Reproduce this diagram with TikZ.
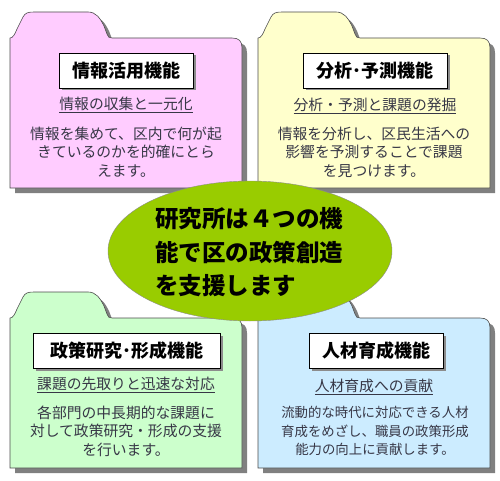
\documentclass[tikz,border=0pt]{standalone}
\usepackage{fontspec}
\setmainfont{Noto Sans CJK JP}
\usetikzlibrary{shapes.geometric,shadows}

\definecolor{pinkfill}{RGB}{255,204,255}
\definecolor{yellowfill}{RGB}{255,255,204}
\definecolor{greenfill}{RGB}{204,255,204}
\definecolor{bluefill}{RGB}{204,236,255}
\definecolor{limefill}{RGB}{153,204,0}
\definecolor{txtcol}{RGB}{55,55,70}

% folder outline: #1 = left x, #2 = top of the tab
\newcommand{\folderpath}[2]{%
  (#1,#2+176) -- (#1,#2+26)
  .. controls (#1+3,#2+26) and (#1+5,#2+22) .. (#1+7,#2+17)
  -- (#1+13,#2+5) .. controls (#1+15,#2+1) and (#1+18,#2) .. (#1+24,#2)
  -- (#1+78,#2) .. controls (#1+86,#2) and (#1+90,#2+6) .. (#1+94,#2+14)
  -- (#1+97,#2+22) .. controls (#1+98,#2+25) and (#1+99,#2+26) .. (#1+102,#2+26)
  -- (#1+222,#2+26) .. controls (#1+229,#2+26) and (#1+232,#2+29) .. (#1+232,#2+36)
  -- (#1+232,#2+176) -- cycle}

\begin{document}
\begin{tikzpicture}[x=1pt, y=-1pt,
  folder/.style={draw=black!70, line width=0.6pt},
  titlebox/.style={draw=black, line width=0.8pt, fill=white, minimum height=35pt,
    inner sep=0pt, font=\fontsize{18}{20}\selectfont\bfseries,
    drop shadow={shadow xshift=2.5pt, shadow yshift=-2.5pt, fill=black!45, opacity=1}},
  subline/.style={text=txtcol, inner sep=1pt, font=\fontsize{14.8}{18.5}\selectfont},
  bodytext/.style={text=txtcol, align=center, inner sep=0pt, font=\fontsize{14.8}{18.5}\selectfont},
]
  \useasboundingbox (0,0) rectangle (500,481);

  % folders with their shadows
  \foreach \L/\T/\col in {10/12/pinkfill, 258/12/yellowfill, 10/292/greenfill, 258/292/bluefill}{
    \fill[black!50, xshift=5pt, yshift=-5pt] \folderpath{\L}{\T};
    \draw[folder, fill=\col] \folderpath{\L}{\T};
  }

  % top left
  \node[titlebox, minimum width=134pt] (info-title) at (126,70.5) {情報活用機能};
  \node[subline] (info-sub) at (126,105) {\underline{情報の収集と一元化}};
  \node[bodytext] (info-text) at (126,152) {情報を集めて、区内で何が起\\きているのかを的確にとら\\えます。};

  % top right
  \node[titlebox, minimum width=144pt] (anal-title) at (375,70.5) {分析･予測機能};
  \node[subline] (anal-sub) at (375,106) {\underline{分析・予測と課題の発掘}};
  \node[bodytext] (anal-text) at (374,152) {情報を分析し、区民生活への\\影響を予測することで課題\\を見つけます。};

  % bottom left
  \node[titlebox, minimum width=187pt] (poli-title) at (126.5,350.5) {政策研究･形成機能};
  \node[subline] (poli-sub) at (126,385) {\underline{課題の先取りと迅速な対応}};
  \node[bodytext] (poli-text) at (126,431) {各部門の中長期的な課題に\\対して政策研究・形成の支援\\を行います。};

  % bottom right
  \node[titlebox, minimum width=134pt] (staff-title) at (376,350.5) {人材育成機能};
  \node[subline] (staff-sub) at (374,387) {\underline{人材育成への貢献}};
  \node[bodytext, font=\fontsize{13.4}{18.5}\selectfont] (staff-text) at (375,431) {流動的な時代に対応できる人材\\育成をめざし、職員の政策形成\\能力の向上に貢献します。};

  % centre
  \node[ellipse, draw=black!45, fill=limefill, minimum width=284pt, minimum height=140pt,
    inner sep=0pt] (core) at (250,251) {};
  \node[align=left, inner sep=0pt, font=\fontsize{23.5}{33.5}\selectfont\bfseries]
    (core-text) at (249,252.5) {研究所は４つの機\\能で区の政策創造\\を支援します};
\end{tikzpicture}
\end{document}
